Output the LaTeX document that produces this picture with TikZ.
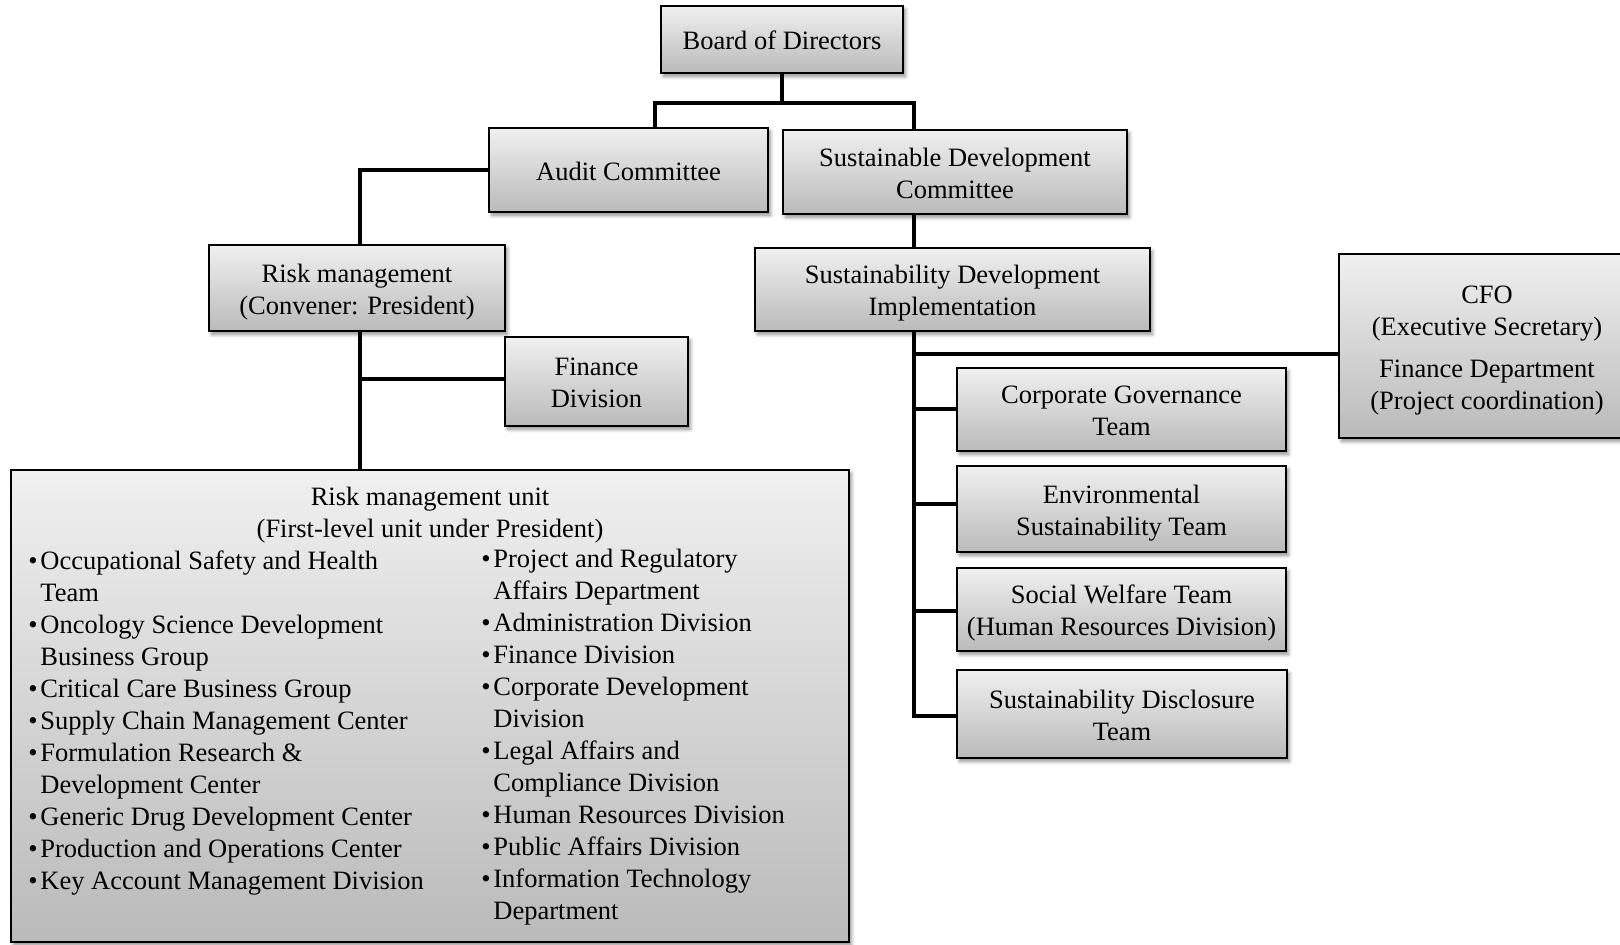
\documentclass[tikz,border=0pt]{standalone}
\usepackage{fontspec}
\setmainfont{Liberation Serif}
\usetikzlibrary{shadows.blur}

\definecolor{boxtop}{RGB}{240,240,240}
\definecolor{boxbottom}{RGB}{186,186,186}

% bullet and hanging indent for the unit lists
\newcommand\bul{\makebox[6pt][l]{\textbullet}}
\newcommand\cnt{\hspace*{6pt}}
% centred box text, its lines evenly spaced and optically centred in the box
\newcommand\bt[1]{\raisebox{-5.5pt}[0pt][0pt]{\begin{tabular}{@{}c@{}}#1\end{tabular}}}

\tikzset{
  orgbox/.style={draw=black, line width=0.8pt, top color=boxtop, bottom color=boxbottom,
    blur shadow={shadow xshift=1.2pt, shadow yshift=-1.6pt, shadow blur radius=1.8pt, shadow opacity=45},
    inner sep=0pt, font=\fontsize{13.25pt}{16pt}\selectfont},
  plaintext/.style={inner sep=0pt, font=\fontsize{13.25pt}{16pt}\selectfont},
  link/.style={draw=black, line width=1.6pt, line join=miter}
}

\begin{document}
\begin{tikzpicture}[x=0.5pt, y=-0.5pt]
\useasboundingbox (0,0) rectangle (1620,944);

% boxes
\node[orgbox, minimum width=121pt, minimum height=33.5pt] (board) at (782,39.5) {\bt{Board of Directors}};
\node[orgbox, minimum width=139.5pt, minimum height=42pt] (audit) at (628.5,170) {\bt{Audit Committee}};
\node[orgbox, minimum width=172pt, minimum height=42pt] (sdc) at (955,172) {\bt{Sustainable Development\\Committee}};
\node[orgbox, minimum width=148pt, minimum height=43pt] (rm) at (357,288) {\bt{Risk management\\(Convener: President)}};
\node[orgbox, minimum width=91.5pt, minimum height=44.5pt] (fin) at (596.5,381.5) {\bt{Finance\\Division}};
\node[orgbox, minimum width=419pt, minimum height=236pt] (rmu) at (430,706) {};
\node[orgbox, minimum width=197.5pt, minimum height=41.5pt] (sdi) at (952.5,289.5) {\bt{Sustainability Development\\Implementation}};
\node[orgbox, minimum width=148pt, minimum height=92pt] (cfo) at (1487,346) {\bt{CFO\\(Executive Secretary)\\[5pt]Finance Department\\(Project coordination)}};
\node[orgbox, minimum width=164.5pt, minimum height=41.5pt] (cgt) at (1121.5,409.5) {\bt{Corporate Governance\\Team}};
\node[orgbox, minimum width=164.5pt, minimum height=43pt] (env) at (1121.5,509) {\bt{Environmental\\Sustainability Team}};
\node[orgbox, minimum width=164.5pt, minimum height=41.5pt] (sw) at (1121.5,609.5) {\bt{Social Welfare Team\\(Human Resources Division)}};
\node[orgbox, minimum width=165pt, minimum height=44pt] (sd) at (1122,714) {\bt{Sustainability Disclosure\\Team}};

% contents of the risk management unit
\node[plaintext, align=center] (rmutitle) at (430,515) {Risk management unit\\(First-level unit under President)};
\node[plaintext, align=left, anchor=north west] (leftlist) at (28,547) {\strut\bul Occupational Safety and Health\\
\cnt Team\\
\bul Oncology Science Development\\
\cnt Business Group\\
\bul Critical Care Business Group\\
\bul Supply Chain Management Center\\
\bul Formulation Research \&\\
\cnt Development Center\\
\bul Generic Drug Development Center\\
\bul Production and Operations Center\\
\bul Key Account Management Division};
\node[plaintext, align=left, anchor=north west] (rightlist) at (481,545) {\strut\bul Project and Regulatory\\
\cnt Affairs Department\\
\bul Administration Division\\
\bul Finance Division\\
\bul Corporate Development\\
\cnt Division\\
\bul Legal Affairs and\\
\cnt Compliance Division\\
\bul Human Resources Division\\
\bul Public Affairs Division\\
\bul Information Technology\\
\cnt Department};

% junction points of the connectors
\coordinate (jtop) at (782,103);
\coordinate (ja) at (655,103);
\coordinate (js) at (914,103);
\coordinate (rx) at (360,170);
\coordinate (fj) at (360,379);
\coordinate (cj) at (914,354);
\coordinate (b1) at (914,409);
\coordinate (b2) at (914,504);
\coordinate (b3) at (914,611);
\coordinate (b4) at (914,716);

% connectors
\draw[link] (board.south) -- (jtop);
\draw[link] (audit.north -| ja) -- (ja) -- (js) -- (sdc.north -| js);
\draw[link] (sdc.south -| js) -- (sdi.north -| js);
\draw[link] (audit.west) -- (rx) -- (rm.north -| rx);
\draw[link] (rm.south -| rx) -- (rmu.north -| rx);
\draw[link] (fj) -- (fj -| fin.west);
\draw[link] (sdi.south -| js) -- (b4) -- (b4 -| sd.west);
\draw[link] (cj) -- (cj -| cfo.west);
\draw[link] (b1) -- (b1 -| cgt.west);
\draw[link] (b2) -- (b2 -| env.west);
\draw[link] (b3) -- (b3 -| sw.west);
\end{tikzpicture}
\end{document}
